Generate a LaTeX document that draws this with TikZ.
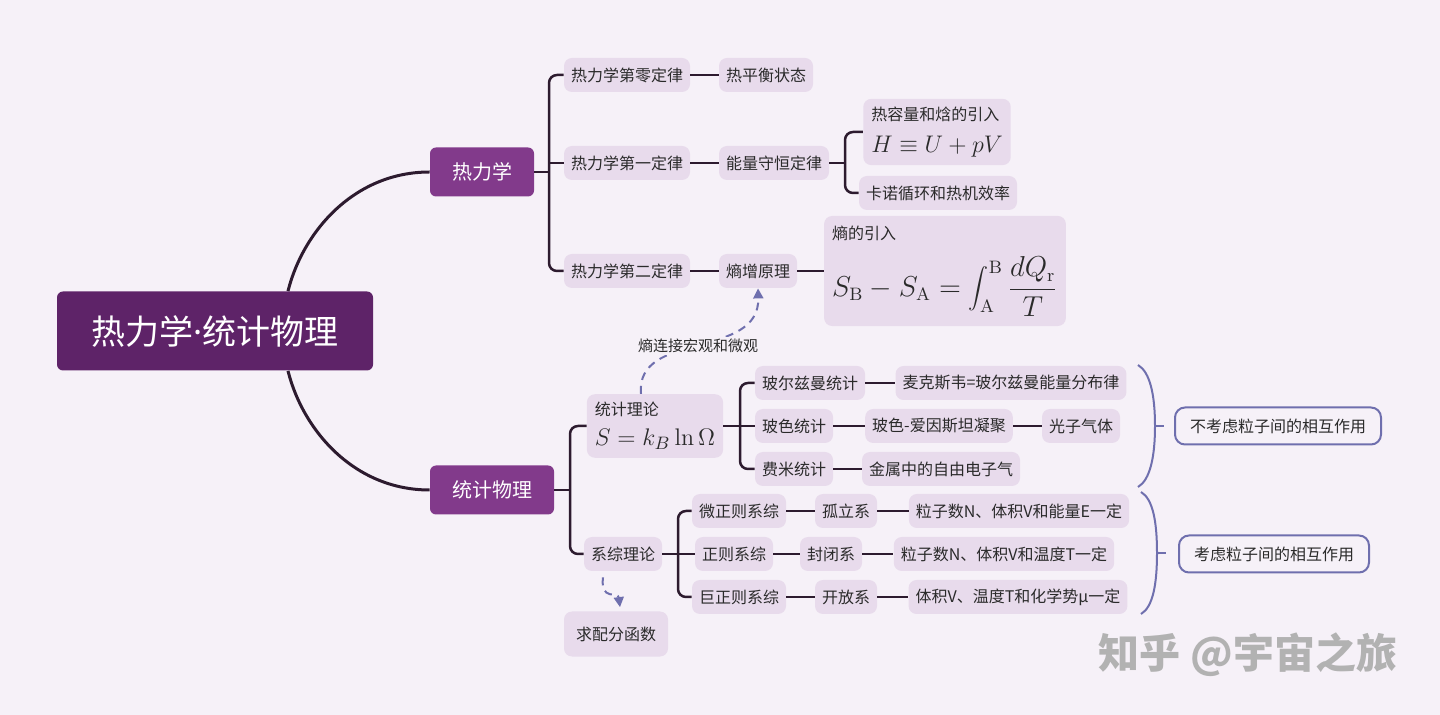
\documentclass[tikz,border=0pt]{standalone}
\usepackage[no-math]{fontspec}
\newfontfamily\zh{Noto Sans CJK SC}
\newfontfamily\lat{Noto Sans}
\usetikzlibrary{arrows.meta}

\definecolor{bgc}{HTML}{F6F1F8}
\definecolor{leafc}{HTML}{E8DBEC}
\definecolor{rootc}{HTML}{5E2368}
\definecolor{branchc}{HTML}{823A8B}
\definecolor{linec}{HTML}{2D1B2F}
\definecolor{notec}{HTML}{6F6FAE}
\definecolor{textc}{HTML}{2A2A2A}
\newcommand{\fml}[2][13]{{\fontsize{#1}{#1}\selectfont$#2$}}

\begin{document}
\begin{tikzpicture}[x=0.5pt, y=-0.5pt,
  leaf/.style={fill=leafc, text=textc, rounded corners=4pt, inner xsep=3.5pt, inner ysep=0pt,
    minimum height=17pt, font=\zh\fontsize{8}{10}\selectfont},
  formbox/.style={leaf, align=left, inner xsep=4pt, inner ysep=4pt},
  branch/.style={fill=branchc, text=white, rounded corners=3pt, inner xsep=11pt,
    minimum height=24.5pt, font=\zh\fontsize{10}{12}\selectfont},
  note/.style={draw=notec, line width=1pt, rounded corners=5pt, text=textc, inner xsep=7.5pt,
    minimum height=18.5pt, font=\zh\fontsize{8}{10}\selectfont},
  tree/.style={draw=linec, line width=1.25pt, rounded corners=4pt},
  hint/.style={draw=notec, line width=1pt, dash pattern=on 4pt off 3pt,
    -{Triangle[length=5pt,width=5pt]}},
  brace/.style={draw=notec, line width=1pt}]

  \fill[bgc] (0,0) rectangle (1440,715);
  \useasboundingbox (0,0) rectangle (1440,715);

  % --- root and the two main branches ---
  \node[fill=rootc, text=white, rounded corners=3pt, minimum width=158pt, minimum height=39.5pt,
    font=\zh\fontsize{17}{20}\selectfont] (root) at (215,331) {热力学{\lat ·}统计物理};
  \node[branch] (thermo) at (482,172) {热力学};
  \node[branch] (stat) at (492,490) {统计物理};

  \draw[linec, line width=1.5pt] ([xshift=36.5pt]root.north) .. controls +(15,-60) and +(-75,0) .. (thermo.west);
  \draw[linec, line width=1.5pt] ([xshift=36.5pt]root.south) .. controls +(15,60) and +(-75,0) .. (stat.west);

  % --- thermodynamics ---
  \node[leaf] (law0) at (627,75) {热力学第零定律};
  \node[leaf] (law1) at (627,163) {热力学第一定律};
  \node[leaf] (law2) at (627,271) {热力学第二定律};
  \node[leaf] (balance) at (766,75) {热平衡状态};
  \node[leaf] (energy) at (774,163) {能量守恒定律};
  \node[leaf] (increase) at (758,271) {熵增原理};
  \node[formbox] (enthalpy) at (937,132) {热容量和焓的引入\\[6pt]\fml{H\equiv U+pV}};
  \node[leaf] (carnot) at (938,193) {卡诺循环和热机效率};
  \node[formbox, inner ysep=5pt] (sdef) at (945,271)
    {熵的引入\\[7pt]\fml[13.5]{\displaystyle S_{\mathrm{B}}-S_{\mathrm{A}}=\int_{\mathrm{A}}^{\mathrm{B}}\frac{dQ_{\mathrm{r}}}{T}}};

  \coordinate (thermo-j) at (549,172);
  \coordinate (energy-j) at (845,163);

  \draw[tree] (thermo.east) -- (thermo-j);
  \draw[tree] (law0.west) -| (thermo-j) |- (law2.west);
  \draw[tree] (law1.west) -- (law1.west -| thermo-j);
  \draw[tree] (law0) -- (balance);
  \draw[tree] (law1) -- (energy);
  \draw[tree] (law2) -- (increase);
  \draw[tree] (energy.east) -- (energy-j);
  \draw[tree] (enthalpy.west) -| (energy-j) |- (carnot.west);
  \draw[tree] (increase) -- (sdef);

  % --- statistical physics ---
  \node[formbox] (stheory) at (655,426) {统计理论\\[5pt]\fml[12.5]{S=k_B\ln\Omega}};
  \node[leaf] (ens) at (623,554) {系综理论};
  \node[leaf, inner xsep=6pt, minimum height=22.5pt] (zfun) at (616,634) {求配分函数};

  \node[leaf] (boltz) at (810,383) {玻尔兹曼统计};
  \node[leaf] (bose) at (794,426) {玻色统计};
  \node[leaf] (fermi) at (794,469) {费米统计};
  \node[leaf] (maxwell) at (1011,383) {麦克斯韦=玻尔兹曼能量分布律};
  \node[leaf] (bec) at (939,426) {玻色-爱因斯坦凝聚};
  \node[leaf] (photon) at (1081,426) {光子气体};
  \node[leaf] (electron) at (941,469) {金属中的自由电子气};

  \node[leaf] (micro) at (739,511) {微正则系综};
  \node[leaf] (canon) at (734,554) {正则系综};
  \node[leaf] (grand) at (739,597) {巨正则系综};
  \node[leaf] (isol) at (846,511) {孤立系};
  \node[leaf] (closed) at (831,554) {封闭系};
  \node[leaf] (open) at (846,597) {开放系};
  \node[leaf] (nve) at (1019,511) {粒子数N、体积V和能量E一定};
  \node[leaf] (nvt) at (1004,554) {粒子数N、体积V和温度T一定};
  \node[leaf] (vtmu) at (1018,597) {体积V、温度T和化学势μ一定};

  \coordinate (stat-j) at (570,490);
  \coordinate (stheory-j) at (740,426);
  \coordinate (ens-j) at (678,554);

  \draw[tree] (stat.east) -- (stat-j);
  \draw[tree] (stheory.west) -| (stat-j) |- (ens.west);
  \draw[tree] (stheory.east) -- (bose.west);
  \draw[tree] (boltz.west) -| (stheory-j) |- (fermi.west);
  \draw[tree] (boltz) -- (maxwell);
  \draw[tree] (bose) -- (bec);
  \draw[tree] (bec) -- (photon);
  \draw[tree] (fermi) -- (electron);

  \draw[tree] (ens) -- (canon);
  \draw[tree] (micro.west) -| (ens-j) |- (grand.west);
  \draw[tree] (micro) -- (isol);
  \draw[tree] (canon) -- (closed);
  \draw[tree] (grand) -- (open);
  \draw[tree] (isol) -- (nve);
  \draw[tree] (closed) -- (nvt);
  \draw[tree] (open) -- (vtmu);

  % --- dashed hints ---
  \draw[hint] ([xshift=-7pt]stheory.north) .. controls (635,330) and (760,360) .. (increase.south);
  \node[fill=bgc, inner sep=1pt, text=textc, font=\zh\fontsize{7.5}{9}\selectfont] (bridge) at (698,346) {熵连接宏观和微观};
  \draw[hint] ([xshift=-10pt,yshift=-3pt]ens.south) .. controls +(-3,24) and +(-2,-16) .. ([xshift=2pt,yshift=2pt]zfun.north);

  % --- braces and notes ---
  \coordinate (b1-mid) at (1155,426);
  \coordinate (b2-mid) at (1157,553);
  \draw[brace] (1138,365) .. controls (1150,372) and (1155,395) .. (b1-mid) .. controls (1155,457) and (1150,480) .. (1138,487);
  \draw[brace] (1141,492) .. controls (1153,499) and (1157,522) .. (b2-mid) .. controls (1157,584) and (1153,607) .. (1141,614);
  \draw[brace] (b1-mid) -- ++(9,0);
  \draw[brace] (b2-mid) -- ++(9,0);
  \node[note] (noint) at (1278,426) {不考虑粒子间的相互作用};
  \node[note] (withint) at (1274,554) {考虑粒子间的相互作用};

  % --- watermark ---
  \node[text=black!30, font=\zh\bfseries\fontsize{20.5}{24}\selectfont] (mark) at (1248,655) {知乎 @宇宙之旅};
\end{tikzpicture}
\end{document}
